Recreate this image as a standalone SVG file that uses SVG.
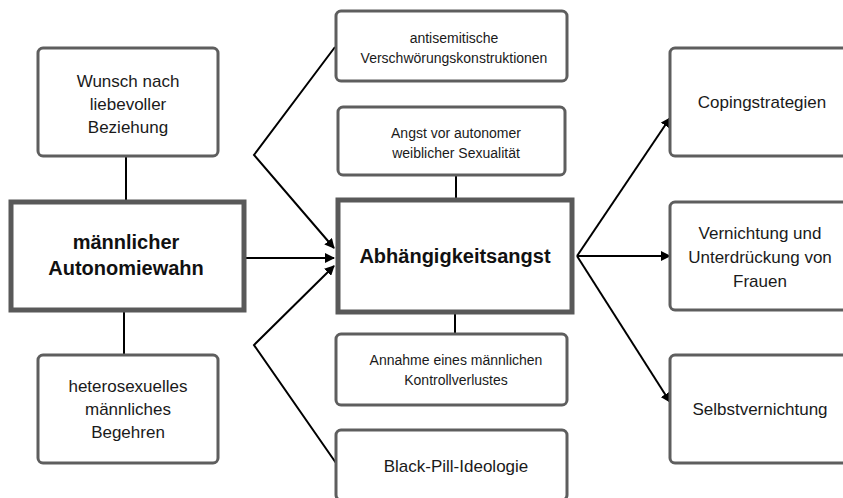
<svg xmlns="http://www.w3.org/2000/svg" width="843" height="498" viewBox="0 0 843 498">
<defs>
<marker id="ah" viewBox="0 0 10 10" refX="9" refY="5" markerWidth="5" markerHeight="5" orient="auto" markerUnits="strokeWidth">
<path d="M0,0 L10,5 L0,10 z" fill="#000"/>
</marker>
<style>
.box{fill:#fff;stroke:#5e5e5e;stroke-width:3}
.main{fill:#fff;stroke:#595959;stroke-width:5}
.t{font-family:"Liberation Sans",Arial,sans-serif;fill:#1a1a1a;text-anchor:middle}
.s16{font-size:17px}
.s13{font-size:14px}
.b{font-weight:bold;font-size:20px;fill:#111}
.c{fill:none;stroke:#000;stroke-width:2}
.a{fill:none;stroke:#000;stroke-width:2;marker-end:url(#ah)}
</style>
</defs>
<rect width="843" height="498" fill="#fff"/>
<g id="connectors">
<line class="c" x1="126" y1="157" x2="126" y2="201"/>
<line class="c" x1="124" y1="312" x2="124" y2="355"/>
<line class="c" x1="456" y1="175" x2="456" y2="198"/>
<line class="c" x1="455" y1="313" x2="455" y2="334"/>
<polyline class="a" points="335,47 254,155 334,248"/>
<line class="a" x1="246" y1="258" x2="334" y2="258"/>
<polyline class="a" points="336,463 254,345 334,266"/>
<line class="a" x1="577" y1="256" x2="670" y2="118"/>
<line class="a" x1="577" y1="256" x2="670" y2="256"/>
<line class="a" x1="577" y1="256" x2="670" y2="402"/>
</g>
<g id="n-wunsch">
<rect class="box" x="38" y="48" width="180" height="108" rx="5"/>
<text class="t s16" x="128" y="87">Wunsch nach</text>
<text class="t s16" x="128" y="110">liebevoller</text>
<text class="t s16" x="128" y="133">Beziehung</text>
</g>
<g id="n-autonomiewahn">
<rect class="main" x="11" y="202" width="233" height="108"/>
<text class="t b" x="126" y="249">männlicher</text>
<text class="t b" x="126" y="275">Autonomiewahn</text>
</g>
<g id="n-hetero">
<rect class="box" x="38" y="355" width="180" height="108" rx="5"/>
<text class="t s16" x="128" y="392">heterosexuelles</text>
<text class="t s16" x="128" y="415">männliches</text>
<text class="t s16" x="128" y="438">Begehren</text>
</g>
<g id="n-antisem">
<rect class="box" x="336" y="11" width="231" height="70" rx="5"/>
<text class="t s13" x="454" y="43">antisemitische</text>
<text class="t s13" x="454" y="63">Verschwörungskonstruktionen</text>
</g>
<g id="n-angst">
<rect class="box" x="338" y="107" width="227" height="68" rx="5"/>
<text class="t s13" x="456" y="138">Angst vor autonomer</text>
<text class="t s13" x="456" y="158">weiblicher Sexualität</text>
</g>
<g id="n-abh">
<rect class="main" x="338" y="200" width="234" height="112"/>
<text class="t b" x="455" y="263">Abhängigkeitsangst</text>
</g>
<g id="n-annahme">
<rect class="box" x="336" y="334" width="231" height="71" rx="5"/>
<text class="t s13" x="456" y="365">Annahme eines männlichen</text>
<text class="t s13" x="456" y="385">Kontrollverlustes</text>
</g>
<g id="n-blackpill">
<rect class="box" x="336" y="430" width="231" height="70" rx="5"/>
<text class="t s16" x="456" y="472">Black-Pill-Ideologie</text>
</g>
<g id="n-coping">
<rect class="box" x="670" y="48" width="180" height="108" rx="5"/>
<text class="t s16" x="762" y="108">Copingstrategien</text>
</g>
<g id="n-vernichtung">
<rect class="box" x="670" y="202" width="180" height="108" rx="5"/>
<text class="t s16" x="760" y="239">Vernichtung und</text>
<text class="t s16" x="760" y="263">Unterdrückung von</text>
<text class="t s16" x="760" y="287">Frauen</text>
</g>
<g id="n-selbst">
<rect class="box" x="670" y="355" width="180" height="108" rx="5"/>
<text class="t s16" x="760" y="415">Selbstvernichtung</text>
</g>
</svg>
